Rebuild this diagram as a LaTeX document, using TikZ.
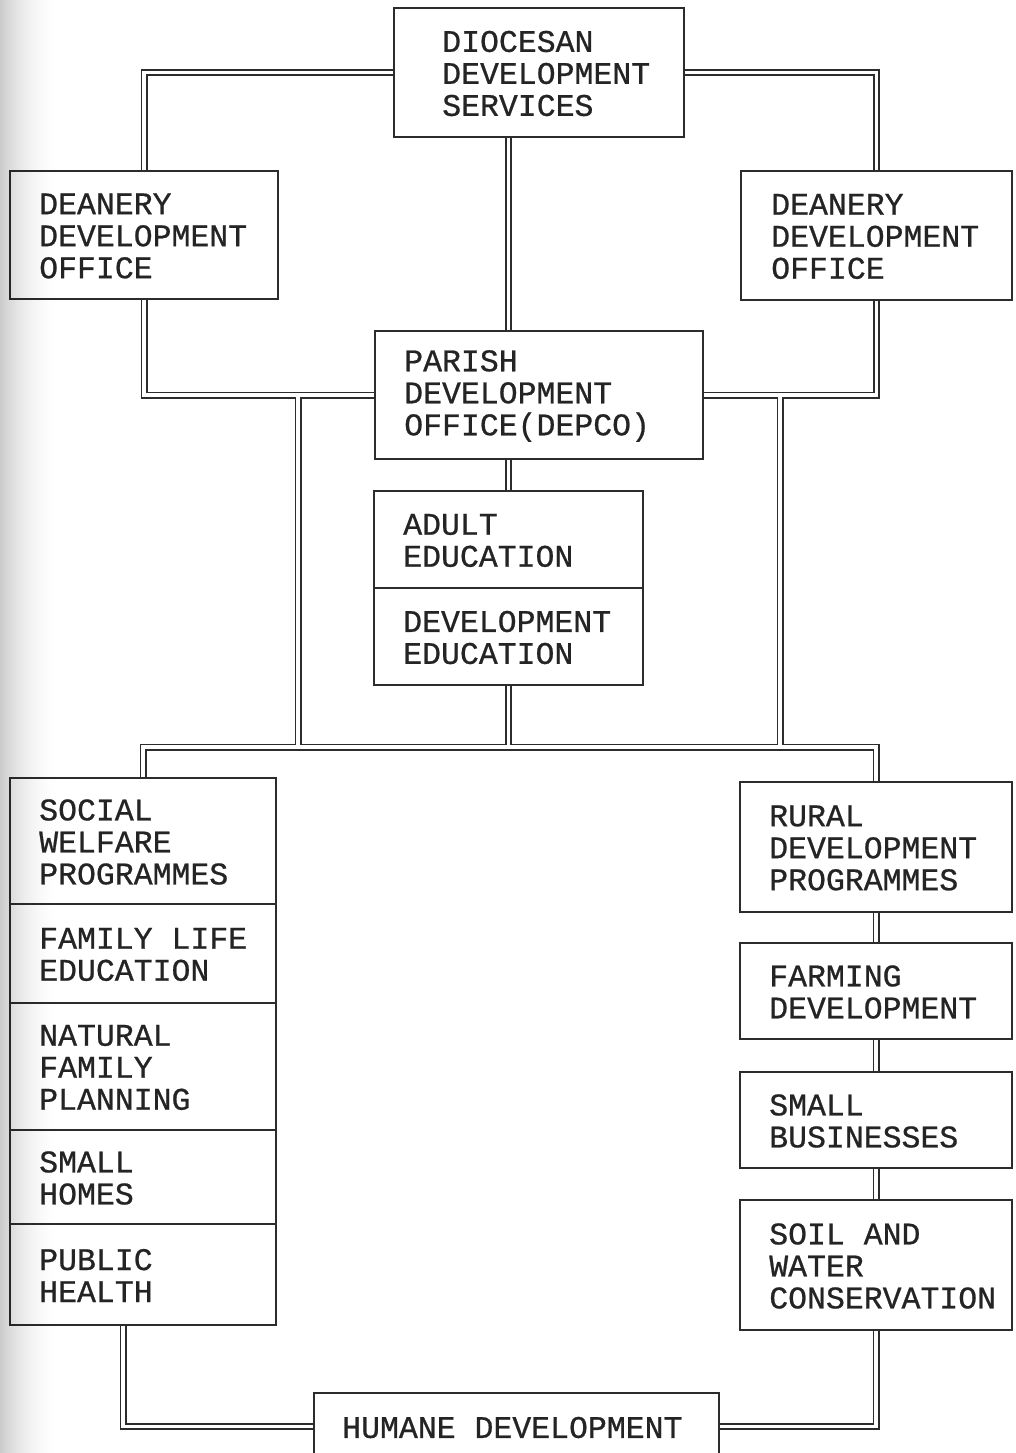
\documentclass[tikz,border=0pt]{standalone}
\usepackage{fontspec}
\newfontfamily\dfont{Liberation Mono}[FakeBold=0.7]
\pgfdeclarelayer{bg}
\pgfsetlayers{bg,main}
\definecolor{inkc}{HTML}{2C2C2C}
\definecolor{txtc}{HTML}{242424}
\tikzset{
  boxst/.style={draw=inkc, line width=1.9pt, fill=white, rectangle, inner sep=0pt},
  txtst/.style={font={\dfont\fontsize{31.5}{32}\selectfont}, text=txtc, align=left, inner sep=0pt, anchor=west},
  conn/.style={draw=inkc, line width=1.8pt, double=white, double distance=3.4pt},
}
\newcommand\mybox[7]{%
  \node[boxst, minimum width={#4-#2}, minimum height={#5-#3}] (#1) at ({(#2+#4)/2},{(#3+#5)/2}) {};
  \node[txtst] (#1t) at ([xshift=#6pt,yshift=-1pt]#1.west) {#7};
}
\begin{document}
\begin{tikzpicture}[x=1pt,y=-1pt]
\useasboundingbox (0,0) rectangle (1015,1453);
% boxes
\mybox{dio}{394}{8}{684}{137}{49}{DIOCESAN\\DEVELOPMENT\\SERVICES}
\mybox{dl}{10}{171}{278}{299}{30}{DEANERY\\DEVELOPMENT\\OFFICE}
\mybox{dr}{741}{171}{1012}{300}{31}{DEANERY\\DEVELOPMENT\\OFFICE}
\mybox{par}{375}{331}{703}{459}{30}{PARISH\\DEVELOPMENT\\OFFICE(DEPCO)}
\mybox{ae}{374}{491}{643}{588}{30}{ADULT\\EDUCATION}
\mybox{de}{374}{588}{643}{685}{30}{DEVELOPMENT\\EDUCATION}
\mybox{sw}{10}{778}{276}{904}{30}{SOCIAL\\WELFARE\\PROGRAMMES}
\mybox{fl}{10}{904}{276}{1003}{30}{FAMILY LIFE\\EDUCATION}
\mybox{nf}{10}{1003}{276}{1130}{30}{NATURAL\\FAMILY\\PLANNING}
\mybox{sh}{10}{1130}{276}{1224}{30}{SMALL\\HOMES}
\mybox{ph}{10}{1224}{276}{1325}{30}{PUBLIC\\HEALTH}
\mybox{rd}{740}{782}{1012}{912}{30}{RURAL\\DEVELOPMENT\\PROGRAMMES}
\mybox{fd}{740}{943}{1012}{1039}{30}{FARMING\\DEVELOPMENT}
\mybox{sb}{740}{1072}{1012}{1168}{30}{SMALL\\BUSINESSES}
\mybox{sc}{740}{1200}{1012}{1330}{30}{SOIL AND\\WATER\\CONSERVATION}
\mybox{hd}{314}{1393}{719}{1460}{29}{HUMANE DEVELOPMENT}
% junction coordinates
\coordinate (bus) at (508.5,747);
\coordinate (jl) at (298,395);
\coordinate (jr) at (780,395);
\begin{pgfonlayer}{bg}
\fill[white] (0,0) rectangle (1015,1453);
\draw[conn]
  (dio.west) -| (dl.north)
  (dio.east) -| (dr.north)
  (dio.south -| ae.north) -- (par.north -| ae.north)
  (dl.south) |- (par.west)
  (dr.south) |- (par.east)
  (par.south -| ae.north) -- (ae.north)
  (de.south) -- (bus)
  (sw.north) |- (bus) -| (rd.north)
  (jl) -- (jl |- bus)
  (jr) -- (jr |- bus)
  (rd.south) -- (fd.north)
  (fd.south) -- (sb.north)
  (sb.south) -- (sc.north)
  ([xshift=-20pt]ph.south) |- (hd.west)
  (sc.south) |- (hd.east);
\end{pgfonlayer}
% scan shadow on the left edge
\foreach \i [evaluate=\i as \op using {0.2*(1-\i/30)^2}] in {0,...,29}
  \fill[black, opacity=\op] ({\i*2},0) rectangle ({\i*2+2.3},1453);
\end{tikzpicture}
\end{document}
